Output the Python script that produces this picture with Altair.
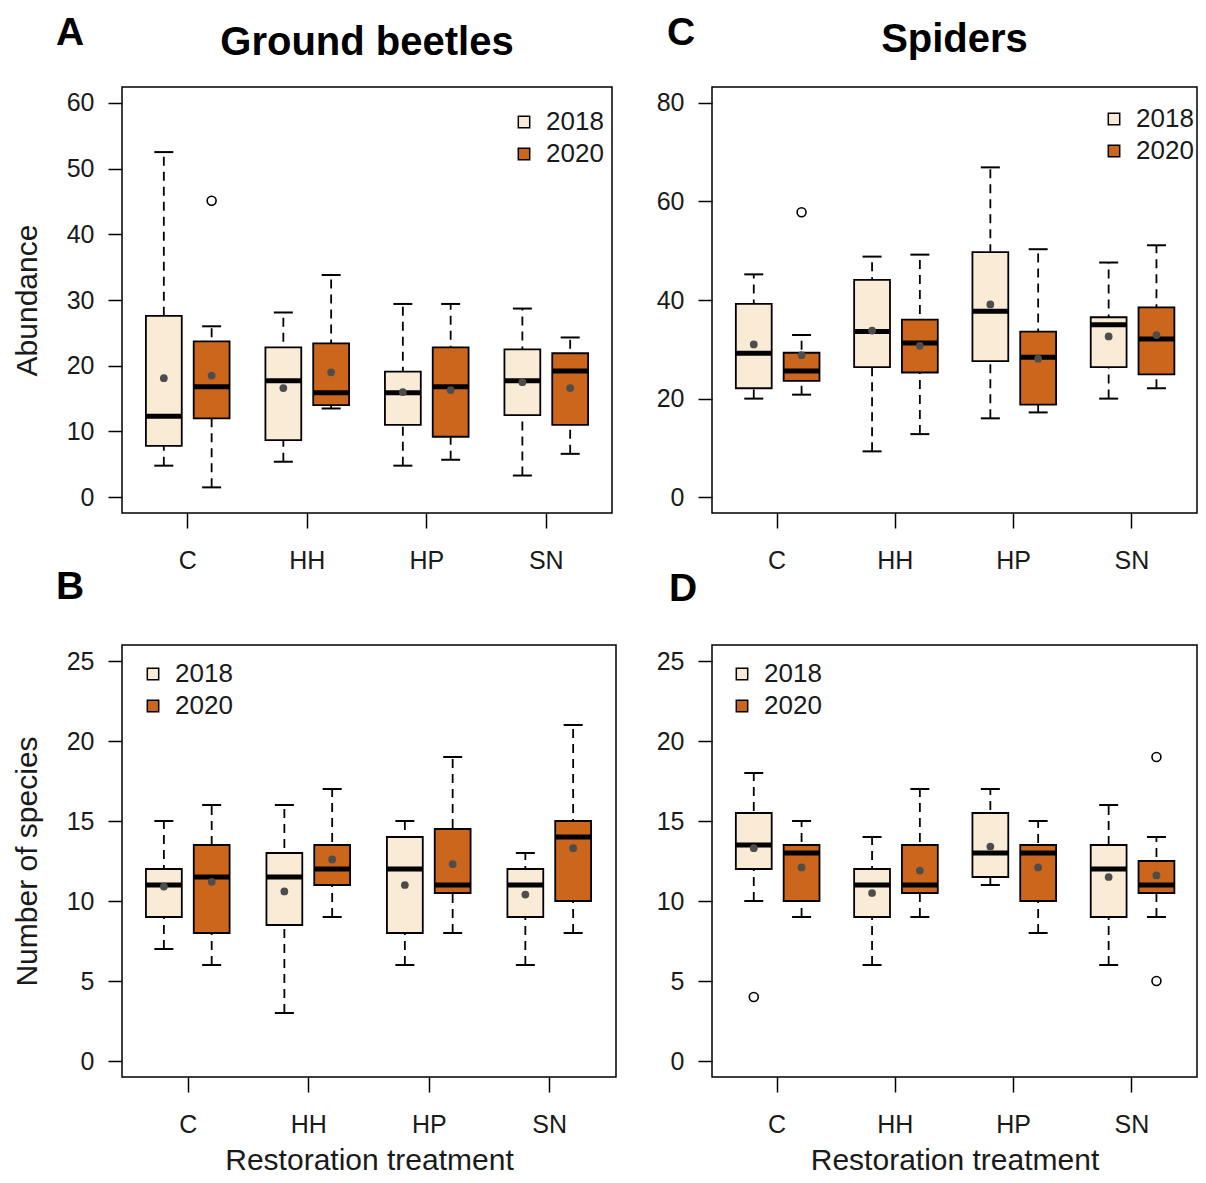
import altair as alt
import pandas as pd

treatments = ["C", "HH", "HP", "SN"]
years = ["2018", "2020"]
colors = ["#FAEBD7", "#CD661D"]

# order: C-2018, C-2020, HH-2018, HH-2020, HP-2018, HP-2020, SN-2018, SN-2020
grp_t = ["C", "C", "HH", "HH", "HP", "HP", "SN", "SN"]
grp_y = ["2018", "2020"] * 4

# A: Ground beetles abundance
a_wlo = [4.8, 1.5, 5.4, 13.5, 4.8, 5.7, 3.3, 6.6]
a_q1 = [7.8, 12.0, 8.7, 14.0, 11.0, 9.2, 12.5, 11.0]
a_med = [12.3, 16.8, 17.7, 15.9, 15.9, 16.8, 17.7, 19.2]
a_q3 = [27.6, 23.7, 22.8, 23.4, 19.1, 22.8, 22.5, 21.9]
a_whi = [52.5, 26.0, 28.1, 33.8, 29.4, 29.4, 28.7, 24.3]
a_mean = [18.1, 18.5, 16.6, 19.0, 16.0, 16.3, 17.5, 16.6]
a_out_t, a_out_y, a_out_v = ["C"], ["2020"], [45.1]

# C: Spiders abundance
c_wlo = [20.0, 20.8, 9.3, 12.8, 16.0, 17.2, 20.0, 22.1]
c_q1 = [22.1, 23.6, 26.4, 25.3, 27.6, 18.8, 26.4, 24.9]
c_med = [29.2, 25.6, 33.6, 31.3, 37.7, 28.4, 35.0, 32.1]
c_q3 = [39.2, 29.3, 44.1, 36.0, 49.7, 33.6, 36.5, 38.5]
c_whi = [45.2, 32.9, 48.8, 49.2, 66.9, 50.3, 47.6, 51.1]
c_mean = [31.0, 28.8, 33.8, 30.7, 39.1, 28.1, 32.6, 32.9]
c_out_t, c_out_y, c_out_v = ["C"], ["2020"], [57.8]

# B: Ground beetles number of species
b_wlo = [7, 6, 3, 9, 6, 8, 6, 8]
b_q1 = [9, 8, 8.5, 11, 8, 10.5, 9, 10]
b_med = [11, 11.5, 11.5, 12, 12, 11, 11, 14]
b_q3 = [12, 13.5, 13, 13.5, 14, 14.5, 12, 15]
b_whi = [15, 16, 16, 17, 15, 19, 13, 21]
b_mean = [10.9, 11.2, 10.6, 12.6, 11.0, 12.3, 10.4, 13.3]
b_out_t, b_out_y, b_out_v = [], [], []

# D: Spiders number of species
d_wlo = [10, 9, 6, 9, 11, 8, 6, 9]
d_q1 = [12, 10, 9, 10.5, 11.5, 10, 9, 10.5]
d_med = [13.5, 13, 11, 11, 13, 13, 12, 11]
d_q3 = [15.5, 13.5, 12, 13.5, 15.5, 13.5, 13.5, 12.5]
d_whi = [18, 15, 14, 17, 17, 15, 16, 14]
d_mean = [13.3, 12.1, 10.5, 11.9, 13.4, 12.1, 11.5, 11.6]
d_out_t, d_out_y, d_out_v = ["C", "SN", "SN"], ["2018", "2020", "2020"], [4, 19, 5]

FONT = "Liberation Sans"
TXT = "#1a1a1a"


def panel(wlo, q1, med, q3, whi, mean, out_t, out_y, out_v,
          ydom, yticks, ytitle, xtitle, title, title_dy, letter, letter_pos,
          legend_pos, width, height):
    df = pd.DataFrame({"treatment": grp_t, "year": grp_y, "wlo": wlo, "q1": q1,
                       "med": med, "q3": q3, "whi": whi, "mean": mean})
    dfo = pd.DataFrame({"treatment": out_t, "year": out_y, "value": out_v})

    xkw = dict(labelAngle=0, labelFontSize=25, labelFont=FONT, labelColor=TXT,
               tickSize=15, tickWidth=1.5, tickColor="black", labelPadding=20,
               domain=False, grid=False, titleFontSize=30, titleFont=FONT,
               titleFontWeight="normal", titleColor=TXT, titlePadding=8)
    xkw["title"] = xtitle if xtitle else None
    x_axis = alt.Axis(**xkw)
    ykw = dict(values=yticks, labelFontSize=25, labelFont=FONT, labelColor=TXT,
               tickSize=14, tickWidth=1.5, tickColor="black", labelPadding=14,
               domain=False, grid=False, titleFontSize=30, titleFont=FONT,
               titleFontWeight="normal", titleColor=TXT, titlePadding=24)
    ykw["title"] = ytitle if ytitle else None
    y_axis = alt.Axis(**ykw)

    xs = alt.Scale(domain=treatments, paddingInner=0, paddingOuter=0.05)
    xo = alt.Scale(domain=years, paddingInner=0.25, paddingOuter=0.375)
    ys = alt.Scale(domain=ydom, nice=False, zero=False)

    X = alt.X("treatment:N", scale=xs, axis=x_axis)
    XO = alt.XOffset("year:N", scale=xo)

    def Y(f):
        return alt.Y(f"{f}:Q", scale=ys, axis=y_axis)

    base = alt.Chart(df)
    whisk = base.mark_rule(color="black", strokeWidth=1.8, strokeDash=[9, 6]).encode(
        x=X, xOffset=XO, y=Y("wlo"), y2="whi:Q")
    cap_lo = base.mark_tick(color="black", thickness=2, size=19, orient="horizontal",
                            opacity=1).encode(x=X, xOffset=XO, y=Y("wlo"))
    cap_hi = base.mark_tick(color="black", thickness=2, size=19, orient="horizontal",
                            opacity=1).encode(x=X, xOffset=XO, y=Y("whi"))
    box = base.mark_bar(stroke="black", strokeWidth=1.8, opacity=1).encode(
        x=X, xOffset=XO, y=Y("q1"), y2="q3:Q",
        fill=alt.Fill("year:N", scale=alt.Scale(domain=years, range=colors),
                      legend=alt.Legend(title=None, orient="none",
                                        legendX=legend_pos[0], legendY=legend_pos[1],
                                        symbolType="square", symbolSize=130,
                                        symbolStrokeColor="black", symbolStrokeWidth=1.5,
                                        labelFontSize=26, labelFont=FONT, labelColor=TXT,
                                        labelOffset=9, rowPadding=6, padding=0)))
    medl = base.mark_tick(color="black", thickness=5, size=width * 0.3 / 4.1,
                          orient="horizontal", opacity=1).encode(x=X, xOffset=XO, y=Y("med"))
    meanp = base.mark_point(filled=True, shape="circle", size=60, color="#4d4d4d",
                            opacity=1).encode(x=X, xOffset=XO, y=Y("mean"))
    layers = [whisk, cap_lo, cap_hi, box, medl, meanp]
    if len(out_v):
        outp = alt.Chart(dfo).mark_point(shape="circle", size=80, color="black",
                                         strokeWidth=1.6, opacity=1).encode(
            x=X, xOffset=XO, y=Y("value"))
        layers.append(outp)
    let = alt.Chart(pd.DataFrame({"label": [letter]})).mark_text(
        fontSize=39, fontWeight="bold", font=FONT, align="center", baseline="middle",
        color="black").encode(text="label:N", x=alt.value(letter_pos[0]),
                              y=alt.value(letter_pos[1]))
    layers.append(let)
    ch = alt.layer(*layers)
    props = dict(width=width, height=height)
    if title:
        props["title"] = alt.TitleParams(text=title, fontSize=40, font=FONT,
                                         fontWeight="bold", anchor="middle",
                                         frame="group", offset=0, dy=title_dy,
                                         color="black")
    return ch.properties(**props)


pA = panel(a_wlo, a_q1, a_med, a_q3, a_whi, a_mean, a_out_t, a_out_y, a_out_v,
           [-2.4, 62.4], [0, 10, 20, 30, 40, 50, 60], "Abundance", None,
           "Ground beetles", 49, "A", (-52, -54), (389, 22), 490, 426)
pC = panel(c_wlo, c_q1, c_med, c_q3, c_whi, c_mean, c_out_t, c_out_y, c_out_v,
           [-3.2, 83.2], [0, 20, 40, 60, 80], None, None,
           "Spiders", 46, "C", (-31, -54), (389, 19), 485, 426)
pB = panel(b_wlo, b_q1, b_med, b_q3, b_whi, b_mean, b_out_t, b_out_y, b_out_v,
           [-1, 26], [0, 5, 10, 15, 20, 25], "Number of species", "Restoration treatment",
           None, 0, "B", (-52, -58), (18, 16), 494, 432)
pD = panel(d_wlo, d_q1, d_med, d_q3, d_whi, d_mean, d_out_t, d_out_y, d_out_v,
           [-1, 26], [0, 5, 10, 15, 20, 25], None, "Restoration treatment",
           None, 0, "D", (-29, -56), (17, 16), 485, 432)

chart = alt.concat(pA, pC, pB, pD, columns=2,
                   spacing=alt.RowColnumber(row=132, column=96),
                   bounds="flush").resolve_scale(fill="independent").resolve_legend(
    fill="independent").configure(
    font=FONT, background="white",
    view=alt.ViewConfig(stroke="black", strokeWidth=1.5)).properties(
    padding={"left": 3, "top": 5, "right": 0, "bottom": 0})

chart.save("out.html", embed_options={"renderer": "svg", "actions": False})
